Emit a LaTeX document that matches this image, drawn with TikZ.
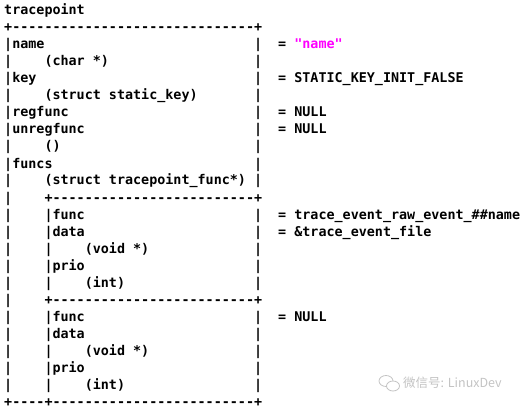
\documentclass[tikz,border=0pt]{standalone}
\usepackage{fontspec}
\usepackage{xcolor}
\usepackage{tikz}
\usetikzlibrary{positioning}
\newfontfamily\asciifont{DejaVu Sans Mono}
\newfontfamily\cjk{Noto Sans CJK SC}
\definecolor{strcol}{RGB}{255,0,255}
\definecolor{wmark}{RGB}{195,195,195}
% column / row of the text grid
\newcommand\cx[1]{4+8.06*(#1)}
\newcommand\ry[1]{15+17*(#1)}
\tikzset{
  asc/.style={anchor=base west,inner sep=0pt,
    font=\asciifont\bfseries\fontsize{13.39}{17}\selectfont},
  val/.style={asc},
  str/.style={asc,text=strcol}
}

\begin{document}
\begin{tikzpicture}[x=1pt,y=-1pt]
\useasboundingbox (0,0) rectangle (525,409);
% title
\node[asc] (title) at ({\cx{0}},{\ry{0}}) {tracepoint};
% borders
\foreach \r/\c in {1/0,1/31,11/5,11/31,17/5,17/31,23/0,23/5,23/31}
  \node[asc] at ({\cx{\c}},{\ry{\r}}) {+};
\foreach \r/\a/\b in {1/1/30,11/6/30,17/6/30,23/1/4,23/6/30}{
  \foreach \c in {\a,...,\b}
    \node[asc] at ({\cx{\c}},{\ry{\r}}) {-};
}
\foreach \r in {2,...,22}
  \node[asc] at ({\cx{0}},{\ry{\r}}) {|};
\foreach \r in {2,3,4,5,6,7,8,9,10,12,13,14,15,16,18,19,20,21,22}
  \node[asc] at ({\cx{31}},{\ry{\r}}) {|};
\foreach \r in {12,13,14,15,16,18,19,20,21,22}
  \node[asc] at ({\cx{5}},{\ry{\r}}) {|};
% fields of tracepoint
\node[asc] (name)   at ({\cx{1}},{\ry{2}}) {name};
\node[asc]          at ({\cx{5}},{\ry{3}}) {(char *)};
\node[asc] (key)    at ({\cx{1}},{\ry{4}}) {key};
\node[asc]          at ({\cx{5}},{\ry{5}}) {(struct static\_key)};
\node[asc] (reg)    at ({\cx{1}},{\ry{6}}) {regfunc};
\node[asc] (unreg)  at ({\cx{1}},{\ry{7}}) {unregfunc};
\node[asc]          at ({\cx{5}},{\ry{8}}) {()};
\node[asc] (funcs)  at ({\cx{1}},{\ry{9}}) {funcs};
\node[asc]          at ({\cx{5}},{\ry{10}}) {(struct tracepoint\_func*)};
% tracepoint_func entries
\foreach \r in {12,18}{
  \node[asc] at ({\cx{6}},{\ry{\r}}) {func};
  \node[asc] at ({\cx{6}},{\ry{\r+1}}) {data};
  \node[asc] at ({\cx{10}},{\ry{\r+2}}) {(void *)};
  \node[asc] at ({\cx{6}},{\ry{\r+3}}) {prio};
  \node[asc] at ({\cx{10}},{\ry{\r+4}}) {(int)};
}
% values
\foreach \r in {2,4,6,7,12,13,18}
  \node[asc] at ({\cx{34}},{\ry{\r}}) {=};
\node[str] (v-name)  at ({\cx{36}},{\ry{2}}) {"name"};
\node[val] (v-key)   at ({\cx{36}},{\ry{4}}) {STATIC\_KEY\_INIT\_FALSE};
\node[val] (v-reg)   at ({\cx{36}},{\ry{6}}) {NULL};
\node[val] (v-unreg) at ({\cx{36}},{\ry{7}}) {NULL};
\node[val] (v-func)  at ({\cx{36}},{\ry{12}}) {trace\_event\_raw\_event\_\#\#name};
\node[val] (v-data)  at ({\cx{36}},{\ry{13}}) {\&trace\_event\_file};
\node[val] (v-func2) at ({\cx{36}},{\ry{18}}) {NULL};
% watermark
\draw[wmark,line width=0.8pt] (386,381) ellipse (7 and 5.5);
\draw[wmark,line width=0.8pt,fill=white] (393,386) ellipse (6.5 and 5);
\node[anchor=west,inner sep=0pt,text=wmark,font=\cjk\fontsize{12.5}{14}\selectfont]
  (wm) at (403,383) {微信号: LinuxDev};
\end{tikzpicture}
\end{document}
